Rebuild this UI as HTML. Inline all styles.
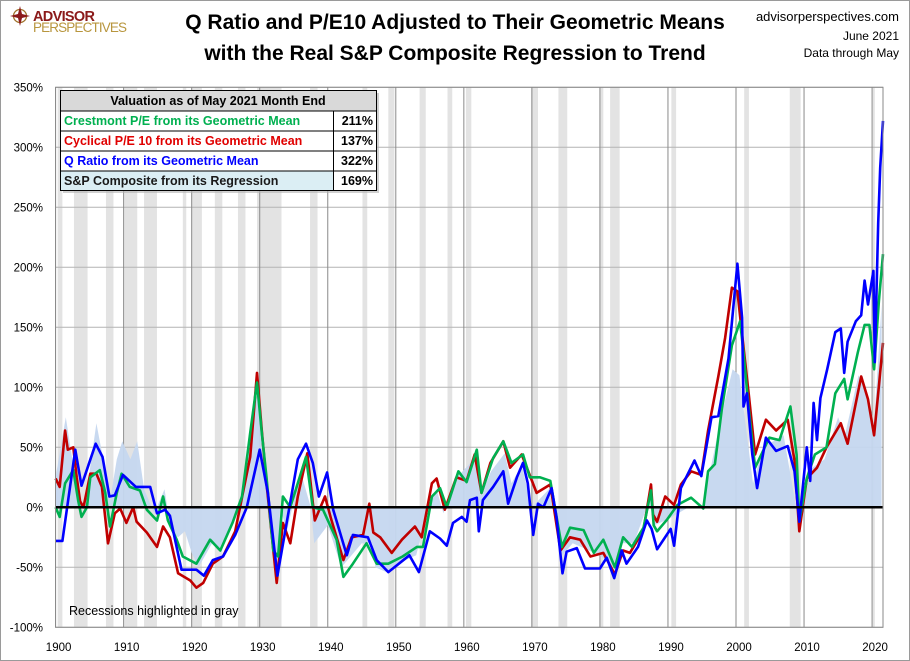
<!DOCTYPE html>
<html><head><meta charset="utf-8">
<style>
body{margin:0;background:#fff;}
#wrap{position:relative;width:910px;height:661px;overflow:hidden;background:#fff;font-family:"Liberation Sans",sans-serif;}
svg text{font-family:"Liberation Sans",sans-serif;}
</style></head>
<body>
<div id="wrap">
<svg id="chart" width="910" height="661" xmlns="http://www.w3.org/2000/svg">
<rect x="0.5" y="0.5" width="909" height="660" fill="#fff" stroke="#9a9a9a"/>
<g id="bands"></g>
<g id="grid"></g>
<g id="series"></g>
<g id="axes"></g>
<g>
<circle cx="20" cy="16" r="6.5" fill="none" stroke="#a0722a" stroke-width="1.3"/>
<path d="M20 6 L22 14 L30 16 L22 18 L20 26 L18 18 L10 16 L18 14 Z" fill="#8b1a1a"/>
<text x="33" y="21" font-size="14.5" font-weight="bold" fill="#8b1a1a" textLength="62">ADVISOR</text>
<text x="33" y="32" font-size="13.5" fill="#b8963e" textLength="94">PERSPECTIVES</text>
</g>
<text x="455" y="29" font-size="21" font-weight="bold" text-anchor="middle" fill="#000">Q Ratio and P/E10 Adjusted to Their Geometric Means</text>
<text x="455" y="60" font-size="21" font-weight="bold" text-anchor="middle" fill="#000">with the Real S&amp;P Composite Regression to Trend</text>
<text x="899" y="21" font-size="13" text-anchor="end">advisorperspectives.com</text>
<text x="899" y="40" font-size="12" text-anchor="end">June 2021</text>
<text x="899" y="57" font-size="12" text-anchor="end">Data through May</text>
<text x="69" y="615" font-size="12.5">Recessions highlighted in gray</text>
<g>
<rect x="63" y="93" width="316" height="100" fill="#b0b0b0" opacity="0.6"/>
<rect x="60.5" y="90.5" width="316" height="100" fill="#fff" stroke="#000"/>
<rect x="61" y="91" width="315" height="20" fill="#d9d9d9"/>
<rect x="61" y="171" width="272" height="19" fill="#dbeef4"/>
<line x1="61" y1="111" x2="376" y2="111" stroke="#000"/>
<line x1="61" y1="131" x2="376" y2="131" stroke="#000"/>
<line x1="61" y1="151" x2="376" y2="151" stroke="#000"/>
<line x1="61" y1="171" x2="376" y2="171" stroke="#000"/>
<line x1="333.5" y1="111" x2="333.5" y2="190" stroke="#000"/>
<text x="218" y="105" font-size="12.5" font-weight="bold" text-anchor="middle">Valuation as of May 2021  Month End</text>
<text x="64" y="125" font-size="12.5" font-weight="bold" fill="#00b050">Crestmont P/E from its Geometric Mean</text>
<text x="64" y="145" font-size="12.5" font-weight="bold" fill="#e00000">Cyclical P/E 10 from its Geometric Mean</text>
<text x="64" y="165" font-size="12.5" font-weight="bold" fill="#0000ff">Q Ratio from its Geometric Mean</text>
<text x="64" y="185" font-size="12.5" font-weight="bold" fill="#1a1a1a">S&amp;P Composite from its Regression</text>
<text x="373" y="125" font-size="12.5" font-weight="bold" text-anchor="end">211%</text>
<text x="373" y="145" font-size="12.5" font-weight="bold" text-anchor="end">137%</text>
<text x="373" y="165" font-size="12.5" font-weight="bold" text-anchor="end">322%</text>
<text x="373" y="185" font-size="12.5" font-weight="bold" text-anchor="end">169%</text>
</g>
</svg>
</div>
<script>
const recessionStarts=[1900.3,1902.7,1907.4,1910.1,1913.0,1918.7,1920.0,1923.4,1926.8,1929.6,1937.4,1945.1,1948.9,1953.5,1957.6,1960.3,1969.9,1973.9,1980.0,1981.5,1990.5,2001.2,2007.9,2020.1];
const recessionEnds=[1901.0,1904.7,1908.5,1912.0,1914.9,1919.2,1921.5,1924.5,1927.9,1933.2,1938.5,1945.8,1949.8,1954.4,1958.3,1961.1,1970.9,1975.2,1980.5,1982.9,1991.2,2001.9,2009.5,2020.4];
const yTicks=[-100,-50,0,50,100,150,200,250,300,350];
const xTicks=[1900,1910,1920,1930,1940,1950,1960,1970,1980,1990,2000,2010,2020];

const spYears=[1900,1901.5,1903,1904,1905,1906,1907,1908,1909,1909.8,1911,1912,1913,1914.5,1916,1917,1918,1919,1920,1921,1923,1924,1926,1927.5,1929.6,1930.5,1932.5,1933,1934,1936,1937.5,1938,1940,1942,1945,1946.5,1947,1949,1951,1953,1955,1956,1957,1959,1961.5,1962.5,1964,1966,1967,1968.5,1970,1972.5,1974.5,1976,1978,1980,1982,1983,1985,1987.5,1988,1990,1993,1995,1996,1998,1999.5,2000.5,2002.5,2004,2007,2009,2010.5,2013,2015,2016,2018,2019,2020.3,2021.4];
const spValues=[25,75,20,0,30,70,40,5,40,55,40,55,15,-5,15,-20,-25,-20,-38,-50,-30,-35,-15,10,95,40,-50,0,-20,30,0,-30,-15,-50,-30,-30,-50,-55,-45,-40,5,15,-5,25,40,10,30,45,20,35,0,15,-40,-30,-35,-40,-50,-30,-30,10,-15,-10,0,0,25,80,115,110,20,50,60,-5,30,40,75,60,110,100,70,169];

const qYears=[1900,1901,1902.9,1903.8,1905.9,1906.9,1907.9,1908.7,1909.9,1911.8,1913.9,1914.9,1916.1,1916.8,1918.5,1920.7,1921.8,1923.1,1924.6,1926.4,1928.1,1930,1931.2,1932.6,1935.6,1936.8,1937.8,1938.7,1939.9,1940.8,1942.8,1943.7,1945.9,1947.2,1948.9,1952,1953.4,1955,1956.5,1957.5,1958.4,1959.7,1960.4,1960.9,1961.9,1962.2,1962.8,1964.3,1965.8,1966.5,1967.8,1968.7,1969.4,1970.2,1970.9,1971.7,1972.9,1973.6,1974.5,1975.1,1976.6,1977.8,1980,1981,1982.1,1983.2,1983.9,1985.6,1986.9,1987.6,1988.4,1990.4,1990.9,1991.9,1993.9,1994.9,1996.4,1997.4,1998.9,2000.2,2000.9,2001.1,2001.6,2002.4,2003.1,2004.4,2005.9,2007.6,2008.6,2009.3,2010.4,2010.9,2011.4,2011.9,2012.4,2013.4,2014.6,2015.4,2015.9,2016.4,2017.6,2018.4,2018.9,2019.4,2020.2,2020.4,2020.9,2021.2,2021.6];
const qValues=[-28,-28,48,18,53,42,9,10,27,17,17,-5,-2,-7,-52,-52,-57,-44,-41,-23,0,48,12,-57,40,53,37,9,29,-2,-40,-23,-25,-44,-54,-40,-54,-20,-26,-32,-13,-8,-12,6,8,-20,6,17,30,3,25,37,20,-23,3,0,16,-8,-55,-37,-34,-51,-51,-42,-59,-36,-47,-33,-11,-18,-35,-18,-32,16,39,26,75,76,124,203,158,84,95,44,16,58,47,51,30,-12,50,22,87,56,91,115,146,149,112,138,155,160,189,169,197,121,237,283,322];

const peYears=[1900,1900.6,1901.4,1901.8,1902.6,1903.1,1903.6,1904.1,1905.1,1906,1906.8,1907.7,1908.7,1909.5,1910.4,1911.4,1911.9,1913.4,1914.9,1915.8,1916.8,1918,1919.8,1920.7,1921.7,1923.1,1924.6,1926.4,1927.6,1928.6,1929.2,1929.6,1930.3,1931,1931.8,1932.5,1933.4,1934.5,1935.6,1937,1938.1,1939.6,1940.5,1942.3,1943.5,1945.2,1946.1,1946.7,1947.7,1949.4,1950.9,1952.8,1953.8,1955.3,1956,1957.2,1958.9,1960.4,1961.6,1962.6,1963.9,1965.8,1966.8,1968.5,1969.4,1970.7,1972.7,1974.2,1975.6,1977.1,1978.6,1980.5,1982.2,1983.4,1984.4,1986.4,1987.5,1987.8,1988.4,1989.6,1990.9,1991.9,1993.4,1994.9,1995.9,1997.4,1998.4,1999.4,2000.2,2000.9,2001.9,2002.8,2004.4,2005.9,2007.6,2008.6,2009.3,2010.4,2011.9,2013.3,2015.4,2016.4,2018.4,2019.4,2020.3,2020.9,2021.6];
const peValues=[24,17,64,48,50,25,5,0,28,28,17,-30,-5,-1,-13,0,-12,-21,-33,-16,-25,-55,-61,-67,-63,-47,-41,-20,14,42,84,112,64,20,-25,-63,-13,-30,9,45,-11,9,-10,-44,-25,-23,3,-21,-25,-38,-27,-16,-25,20,24,-2,25,22,44,12,37,55,33,44,31,12,19,-36,-25,-27,-41,-38,-56,-36,-38,-19,19,-6,-12,9,2,19,30,27,64,109,141,183,180,144,93,44,73,64,73,39,-20,24,33,50,70,53,109,90,60,95,137];

const crYears=[1900,1900.6,1901.4,1902.6,1903.3,1903.8,1904.6,1905.1,1906.5,1907.3,1908,1909,1909.7,1910.9,1912.4,1913.4,1914.9,1915.8,1916.5,1917.8,1918.7,1920.7,1922.7,1924.2,1926,1927.4,1928.6,1929.6,1930.3,1931,1932,1932.7,1933.4,1934.5,1936.8,1937.8,1939.3,1941.3,1942.3,1943.7,1945.7,1947.2,1948.9,1951,1953.1,1954,1955.3,1956.5,1957.5,1959.2,1960.4,1961.9,1962.6,1964.3,1965.8,1967,1968.7,1969.7,1971.2,1972.7,1974.4,1975.6,1977.6,1979.1,1980.5,1982.2,1983.4,1984.7,1986.4,1987.5,1987.9,1988.4,1989.9,1991.4,1993.4,1995.2,1995.9,1996.9,1997.9,1999.4,2000.6,2001.1,2001.9,2002.8,2004.9,2006.4,2008,2008.9,2009.3,2010.4,2011.6,2013.3,2014.6,2015.9,2016.4,2017.9,2018.9,2019.6,2020.3,2021,2021.6];
const crValues=[0,-8,20,31,6,-8,0,25,31,12,-16,12,28,17,14,-2,-11,9,-11,-27,-41,-47,-27,-36,-13,9,62,104,62,25,-36,-41,9,0,42,0,-2,-27,-58,-47,-30,-47,-47,-41,-33,-33,9,16,0,30,21,48,12,41,55,37,44,25,25,22,-33,-17,-19,-38,-27,-50,-25,-33,-17,14,-15,-20,-10,2,8,-1,30,36,81,135,155,129,81,33,58,56,84,44,-12,24,44,50,95,107,90,129,152,152,115,172,211];

const X0=55.6, PX_PER_YEAR=6.804, Y0=507.3, PX_PER_PCT=60/50;
const PLOT_L=55.5, PLOT_R=883, PLOT_T=87.3, PLOT_B=627.3;
function xScale(yr){return X0+(yr-1900)*PX_PER_YEAR;}
function yScale(v){return Y0-v*PX_PER_PCT;}
const NS='http://www.w3.org/2000/svg';
function mk(tag,attrs,parent){const e=document.createElementNS(NS,tag);for(const k in attrs)e.setAttribute(k,attrs[k]);parent.appendChild(e);return e;}

const bands=document.getElementById('bands');
recessionStarts.forEach((s,i)=>{
  const x1=Math.max(PLOT_L,xScale(s)), x2=Math.min(PLOT_R,xScale(recessionEnds[i]));
  const r=mk('rect',{x:x1,y:PLOT_T,width:x2-x1,height:PLOT_B-PLOT_T,fill:'#e3e3e3'},bands);
  
  
});

const grid=document.getElementById('grid');
yTicks.forEach(t=>{
  const l=mk('line',{x1:PLOT_L,x2:PLOT_R,y1:yScale(t),y2:yScale(t),stroke:'#b4b4b4','stroke-width':1},grid);
  
  
});
xTicks.forEach(t=>{
  const l=mk('line',{x1:xScale(t),x2:xScale(t),y1:PLOT_T,y2:PLOT_B,stroke:'#8a8a8a','stroke-width':1},grid);
  
  
});

const series=document.getElementById('series');
let d='M'+xScale(spYears[0])+' '+yScale(0);
spYears.forEach((y,i)=>{d+=' L'+xScale(y).toFixed(1)+' '+yScale(spValues[i]).toFixed(1);});
d+=' L'+xScale(spYears[spYears.length-1])+' '+yScale(0)+' Z';
const area=mk('path',{d:d,fill:'#c5d7ef',opacity:0.95},series);



function line(ys,vs,color,name){
  const pts=ys.map((y,i)=>xScale(y).toFixed(1)+','+yScale(vs[i]).toFixed(1)).join(' ');
  const p=mk('polyline',{points:pts,fill:'none',stroke:color,'stroke-width':2.6,'stroke-linejoin':'round'},series);
  
  
}
line(peYears,peValues,'#c00000','pe10-line');
line(crYears,crValues,'#00b050','crestmont-line');
line(qYears,qValues,'#0000ff','q-ratio-line');
const zero=mk('line',{x1:PLOT_L,x2:PLOT_R,y1:yScale(0),y2:yScale(0),stroke:'#000','stroke-width':2.5},series);



const axes=document.getElementById('axes');
const frame=mk('rect',{x:PLOT_L,y:PLOT_T,width:PLOT_R-PLOT_L,height:PLOT_B-PLOT_T,fill:'none',stroke:'#8a8a8a'},axes);


yTicks.forEach(t=>{
  const tx=mk('text',{x:43,y:yScale(t)+4,'font-size':11.5,'text-anchor':'end'},axes);
  tx.textContent=t+'%';
  
  
});
xTicks.forEach(t=>{
  const tx=mk('text',{x:xScale(t)+3,y:651,'font-size':11.5,'text-anchor':'middle'},axes);
  tx.textContent=t;
  
  
});
</script>
</body></html>
